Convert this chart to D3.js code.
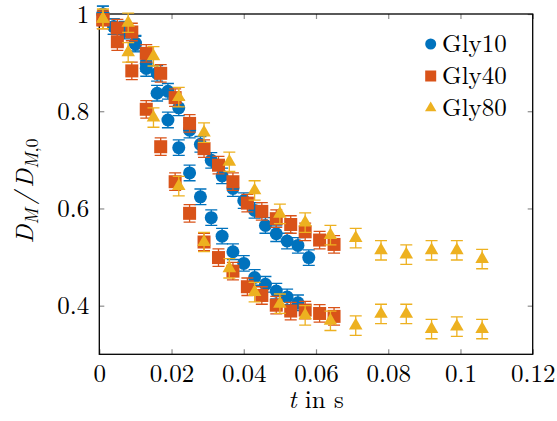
<!DOCTYPE html>
<html>
<head>
<meta charset="utf-8">
<script src="https://cdn.jsdelivr.net/npm/d3@7"></script>
<style>
    body { margin: 0; background: #fff; }
</style>
</head>
<body>
<div id="chart"></div>
<script>
// time in s and D_M / D_M,0 for both runs of each series
const gly10Time = [0.001, 0.004, 0.007, 0.010, 0.013, 0.016, 0.019, 0.022, 0.025, 0.028,
    0.031, 0.034, 0.037, 0.040, 0.043, 0.046, 0.049, 0.052, 0.055, 0.058];
const gly10Slow = [1.0, 0.974, 0.969, 0.940, 0.898, 0.878, 0.841, 0.807, 0.761, 0.732,
    0.699, 0.667, 0.641, 0.616, 0.596, 0.565, 0.548, 0.533, 0.524, 0.499];
const gly10Fast = [1.0, 0.974, 0.965, 0.938, 0.888, 0.837, 0.782, 0.725, 0.673, 0.624,
    0.581, 0.543, 0.511, 0.487, 0.458, 0.444, 0.430, 0.418, 0.406];
const gly10Err = 0.016;

const gly40Time = [0.001, 0.005, 0.009, 0.013, 0.017, 0.021, 0.025, 0.029, 0.033,
    0.037, 0.041, 0.045, 0.049, 0.053, 0.057, 0.061, 0.065];
const gly40Slow = [0.988, 0.971, 0.963, 0.919, 0.878, 0.828, 0.775, 0.723, 0.689,
    0.655, 0.611, 0.594, 0.579, 0.567, 0.552, 0.535, 0.526];
const gly40Fast = [0.988, 0.943, 0.883, 0.804, 0.727, 0.655, 0.590, 0.531, 0.499,
    0.471, 0.439, 0.421, 0.401, 0.389, 0.391, 0.384, 0.378];
const gly40Err = 0.018;

const gly80Time = [0.001, 0.008, 0.015, 0.022, 0.029, 0.036, 0.043, 0.050,
    0.057, 0.064, 0.071, 0.078, 0.085, 0.092, 0.099, 0.106];
const gly80Slow = [0.99, 0.982, 0.913, 0.829, 0.756, 0.696, 0.637, 0.589,
    0.571, 0.545, 0.539, 0.514, 0.505, 0.514, 0.514, 0.496];
const gly80Fast = [0.99, 0.921, 0.787, 0.646, 0.531, 0.477, 0.428, 0.404,
    0.380, 0.369, 0.359, 0.383, 0.383, 0.352, 0.357, 0.352];
const gly80Err = 0.02;

const xTicks = [0, 0.02, 0.04, 0.06, 0.08, 0.1, 0.12];
const xTickLabels = ['0', '0.02', '0.04', '0.06', '0.08', '0.1', '0.12'];
const yTicks = [0.4, 0.6, 0.8, 1];
const yTickLabels = ['0.4', '0.6', '0.8', '1'];

const width = 557;
const height = 421;
const margin = {top: 14, right: 24.3, bottom: 66.7, left: 99.3};
const fontSize = 25;
const serif = '"Latin Modern Roman", "Liberation Serif", serif';

const series = [
    {name: 'Gly10', mark: 'circle', color: '#0072bd', time: gly10Time, runs: [gly10Slow, gly10Fast], err: gly10Err},
    {name: 'Gly40', mark: 'square', color: '#d95319', time: gly40Time, runs: [gly40Slow, gly40Fast], err: gly40Err},
    {name: 'Gly80', mark: 'triangle', color: '#edb120', time: gly80Time, runs: [gly80Slow, gly80Fast], err: gly80Err}
];

const svg = d3.select('#chart').append('svg')
    .attr('width', width)
    .attr('height', height);

const x = d3.scaleLinear().domain([0, 0.12]).range([margin.left, width - margin.right]);
const y = d3.scaleLinear().domain([0.3, 1]).range([height - margin.bottom, margin.top]);

function styleAxis(g) {
    g.select('.domain').remove();
    g.selectAll('.tick line').attr('stroke', '#8c8c8c').attr('stroke-width', 1.2);
    g.selectAll('.tick text')
        .attr('fill', '#000')
        .style('font-family', serif)
        .style('font-size', fontSize + 'px');
}

svg.append('g')
    .attr('transform', 'translate(0,' + y.range()[0] + ')')
    .call(d3.axisBottom(x).tickValues(xTicks).tickSize(-5).tickPadding(10)
        .tickFormat((d, i) => xTickLabels[i]))
    .call(styleAxis);
svg.append('g')
    .attr('transform', 'translate(0,' + y.range()[1] + ')')
    .call(d3.axisTop(x).tickValues(xTicks).tickSize(-5).tickFormat(''))
    .call(styleAxis);
svg.append('g')
    .attr('transform', 'translate(' + x.range()[0] + ',0)')
    .call(d3.axisLeft(y).tickValues(yTicks).tickSize(-5).tickPadding(10)
        .tickFormat((d, i) => yTickLabels[i]))
    .call(styleAxis);
svg.append('g')
    .attr('transform', 'translate(' + x.range()[1] + ',0)')
    .call(d3.axisRight(y).tickValues(yTicks).tickSize(-5).tickFormat(''))
    .call(styleAxis);

// frame
svg.append('rect')
    .attr('x', x.range()[0])
    .attr('y', y.range()[1])
    .attr('width', x.range()[1] - x.range()[0])
    .attr('height', y.range()[0] - y.range()[1])
    .attr('fill', 'none')
    .attr('stroke', '#000')
    .attr('stroke-width', 1.3);

function drawMark(g, type, cx, cy, color, s) {
    if (type === 'circle') {
        g.append('circle').attr('cx', cx).attr('cy', cy).attr('r', s).attr('fill', color);
    } else if (type === 'square') {
        g.append('rect').attr('x', cx - s).attr('y', cy - s)
            .attr('width', s * 2).attr('height', s * 2).attr('fill', color);
    } else {
        const r = s * 1.2;
        const pts = [[cx, cy - r], [cx + r * 0.866, cy + r / 2], [cx - r * 0.866, cy + r / 2]];
        g.append('path').attr('d', 'M' + pts.join('L') + 'Z').attr('fill', color);
    }
}

const capHalf = 6;
series.forEach(s => {
    const g = svg.append('g');
    s.runs.forEach(run => {
        run.forEach((v, i) => {
            const px = x(s.time[i]);
            const y0 = y(v - s.err);
            const y1 = y(v + s.err);
            g.append('path')
                .attr('d', 'M' + px + ',' + y0 + 'V' + y1 +
                    'M' + (px - capHalf) + ',' + y0 + 'H' + (px + capHalf) +
                    'M' + (px - capHalf) + ',' + y1 + 'H' + (px + capHalf))
                .attr('stroke', s.color)
                .attr('stroke-width', 1.3)
                .attr('fill', 'none');
        });
        run.forEach((v, i) => {
            drawMark(g, s.mark, x(s.time[i]), y(v), s.color, 6.5);
        });
    });
});

// legend
const legend = svg.append('g');
series.forEach((s, i) => {
    const rowY = 44 + i * 32;
    drawMark(legend, s.mark, 430.7, rowY, s.color, 5.5);
    legend.append('text')
        .attr('x', 442)
        .attr('y', rowY + 8)
        .style('font-family', serif)
        .style('font-size', fontSize + 'px')
        .text(s.name);
});

// axis labels
svg.append('text')
    .attr('x', (x.range()[0] + x.range()[1]) / 2)
    .attr('y', 408)
    .attr('text-anchor', 'middle')
    .style('font-family', serif)
    .style('font-size', fontSize + 'px')
    .call(t => {
        t.append('tspan').style('font-style', 'italic').text('t');
        t.append('tspan').text(' in s');
    });

svg.append('text')
    .attr('transform', 'translate(33,191) rotate(-90)')
    .attr('text-anchor', 'middle')
    .style('font-family', serif)
    .style('font-size', fontSize + 'px')
    .style('font-style', 'italic')
    .call(t => {
        t.append('tspan').text('D');
        t.append('tspan').attr('dy', 5).style('font-size', '18px').text('M');
        t.append('tspan').attr('dy', -5).attr('dx', 4).text('/');
        t.append('tspan').attr('dx', 4).text('D');
        t.append('tspan').attr('dy', 5).style('font-size', '18px').text('M');
        t.append('tspan').style('font-size', '18px').style('font-style', 'normal').text(',0');
    });
</script>
</body>
</html>
